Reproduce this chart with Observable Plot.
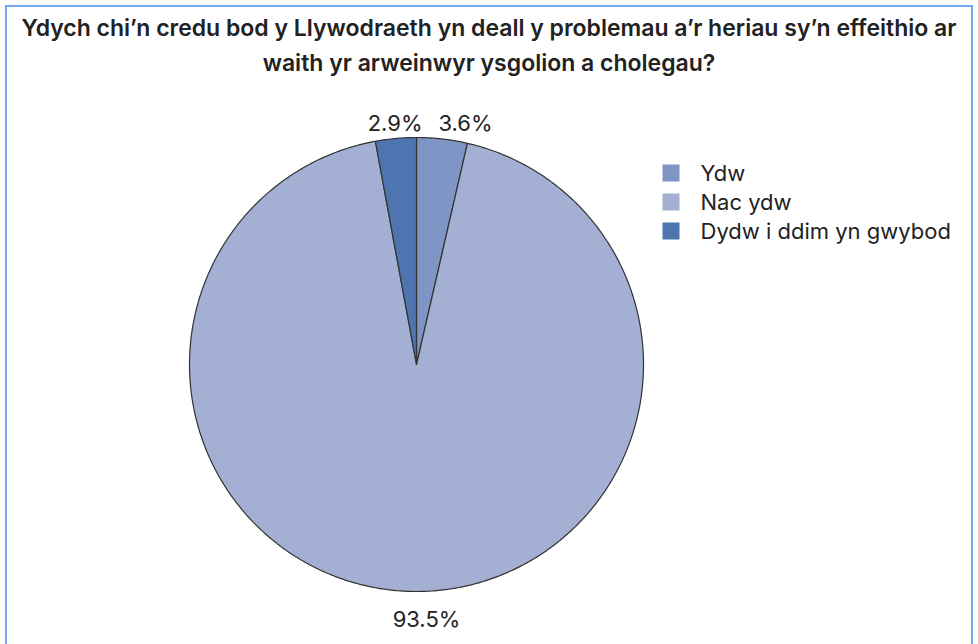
<!DOCTYPE html>
<html>
<head>
<meta charset="utf-8">
<script src="https://cdn.jsdelivr.net/npm/d3@7"></script>
<script src="https://cdn.jsdelivr.net/npm/@observablehq/plot@0.6"></script>
<style>
  html, body { margin: 0; padding: 0; background: #fff; }
  body { width: 978px; height: 644px; position: relative; overflow: hidden; font-family: Inter, "Liberation Sans", Arial, sans-serif; }
  #frame { position: absolute; left: 5px; top: 5px; width: 968px; height: 700px; border: 2px solid #74a8f4; box-sizing: border-box; }
  #title { position: absolute; left: 0; top: 11px; width: 978px; text-align: center; font-weight: 600; font-size: 23px; line-height: 35px; color: #222; }
  #chart { position: absolute; left: 0; top: 0; }
</style>
</head>
<body>
<div id="frame"></div>
<div id="title">Ydych chi’n credu bod y Llywodraeth yn deall y problemau a’r heriau sy’n effeithio ar<br>waith yr arweinwyr ysgolion a cholegau?</div>
<div id="chart"></div>
<script>
const categories = ["Ydw", "Nac ydw", "Dydw i ddim yn gwybod"];
const values = [3.6, 93.5, 2.9];
const labels = ["3.6%", "93.5%", "2.9%"];
const colors = ["#7f95c5", "#a3b0d3", "#4f75b0"];

const W = 978, H = 644;
const cx = 416, cy = 364, R = 227;

const data = categories.map((c, i) => ({category: c, value: values[i], label: labels[i]}));
const arcs = d3.pie().sort(null).value(d => d.value)(data);

// slice outlines as polygons
const slicePts = [];
arcs.forEach(a => {
  const n = Math.max(2, Math.ceil((a.endAngle - a.startAngle) / 0.01));
  slicePts.push({category: a.data.category, x: cx, y: cy});
  for (let k = 0; k <= n; k++) {
    const t = a.startAngle + (a.endAngle - a.startAngle) * k / n;
    slicePts.push({category: a.data.category, x: cx + R * Math.sin(t), y: cy - R * Math.cos(t)});
  }
});

// label positions outside the pie
const labelPts = arcs.map(a => {
  const m = (a.startAngle + a.endAngle) / 2;
  const big = a.data.value > 50;
  if (big) return {label: a.data.label, x: cx + 10, y: cy + R + 28, anchor: "middle"};
  const right = Math.sin(m) >= 0;
  return {label: a.data.label, x: cx + (right ? 22 : 6), y: cy - R - 14, anchor: right ? "start" : "end"};
});

const legend = categories.map((c, i) => ({category: c, i}));

const color = {domain: categories, range: colors};

const txt = {fontSize: 22, fill: "#222"};

const plot = Plot.plot({
  width: W, height: H,
  margin: 0,
  x: {type: "identity", axis: null},
  y: {type: "identity", axis: null},
  color,
  style: {fontFamily: "Inter, Liberation Sans, Arial, sans-serif", background: "transparent"},
  marks: [
    Plot.line(slicePts, {x: "x", y: "y", z: "category", fill: "category", stroke: "#333", strokeWidth: 1.2, curve: "linear-closed"}),
    Plot.text(labelPts.filter(d => d.anchor === "start"), {x: "x", y: "y", text: "label", textAnchor: "start", ...txt}),
    Plot.text(labelPts.filter(d => d.anchor === "end"), {x: "x", y: "y", text: "label", textAnchor: "end", ...txt}),
    Plot.text(labelPts.filter(d => d.anchor === "middle"), {x: "x", y: "y", text: "label", textAnchor: "middle", ...txt}),
    Plot.dot(legend, {x: () => 670.5, y: d => 172.5 + d.i * 29, symbol: "square", r: 9.6, fill: "category", stroke: "none"}),
    Plot.text(legend, {x: () => 700, y: d => 173 + d.i * 29, text: "category", textAnchor: "start", ...txt})
  ]
});
document.getElementById("chart").appendChild(plot);
</script>
</body>
</html>
